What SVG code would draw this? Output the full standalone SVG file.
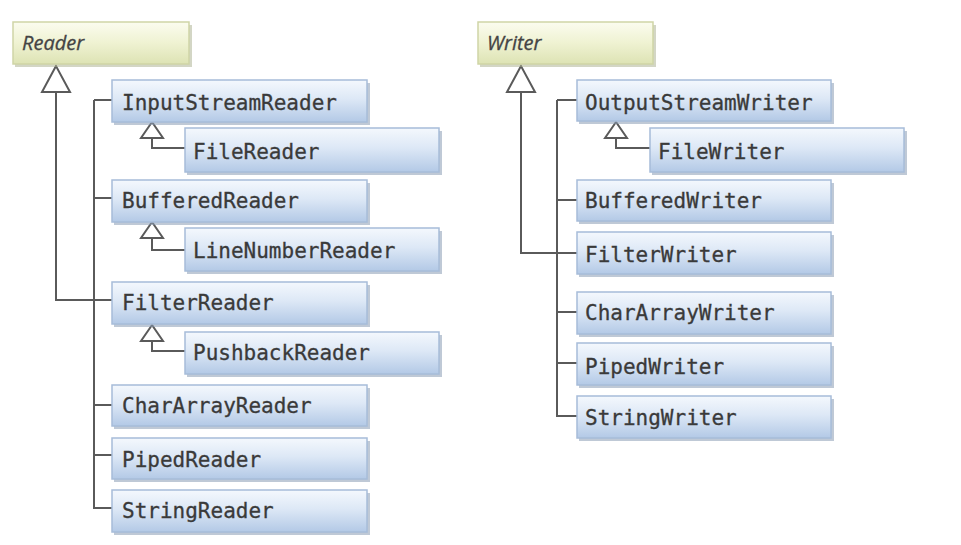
<svg xmlns="http://www.w3.org/2000/svg" width="961" height="545" viewBox="0 0 961 545">
<defs>
<linearGradient id="blue" x1="0" y1="0" x2="0" y2="1">
<stop offset="0" stop-color="#f4f8fd"/>
<stop offset="0.45" stop-color="#dde8f6"/>
<stop offset="1" stop-color="#b3c9e6"/>
</linearGradient>
<linearGradient id="green" x1="0" y1="0" x2="0" y2="1">
<stop offset="0" stop-color="#fbfcef"/>
<stop offset="0.5" stop-color="#eff2d2"/>
<stop offset="1" stop-color="#dde3b4"/>
</linearGradient>
</defs>
<style>
.bg{fill:#ffffff}
.sh{fill:#8a9cb5;opacity:0.55}
.shg{fill:#a8ad8c;opacity:0.5}
.b{fill:url(#blue);stroke:#a7bcd9;stroke-width:1.5}
.g{fill:url(#green);stroke:#cfd5a6;stroke-width:1.5}
.t{font-family:"DejaVu Sans Mono","Liberation Mono",monospace;font-size:21px;fill:#3a3a3a;stroke:#3a3a3a;stroke-width:0.3}
.ti{font-family:"Open Sans","Liberation Sans",sans-serif;font-style:italic;font-size:20px;fill:#444;stroke:#444;stroke-width:0.3}
.ln{fill:none;stroke:#5a5a5a;stroke-width:2}
.tri{fill:#ffffff;stroke:#5a5a5a;stroke-width:2}
</style>
<rect class="bg" x="0" y="0" width="961" height="545"/>

<g id="connectors">
<path class="ln" d="M56,92 V300 H112"/>
<polygon class="tri" points="56,66 42,92 70,92"/>
<path class="ln" d="M94,100 V508 H112 M94,100 H112 M94,198 H112 M94,300 H112 M94,405 H112 M94,455 H112"/>
<path class="ln" d="M152,138 V148 H185"/>
<polygon class="tri" points="152,122 141,138 163,138"/>
<path class="ln" d="M152,238 V250 H185"/>
<polygon class="tri" points="152,222 141,238 163,238"/>
<path class="ln" d="M152,341 V351 H185"/>
<polygon class="tri" points="152,325 141,341 163,341"/>
<path class="ln" d="M521,92 V253 H577"/>
<polygon class="tri" points="521,66 507,92 535,92"/>
<path class="ln" d="M557,100 V416 H577 M557,100 H577 M557,200 H577 M557,312 H577 M557,363 H577"/>
<path class="ln" d="M616,138 V148 H650"/>
<polygon class="tri" points="616,122 605,138 627,138"/>
</g>

<g id="Reader"><rect class="shg" x="15" y="25" width="177" height="42"/><rect class="g" x="13" y="22" width="176" height="42"/><text class="ti" x="22" y="50">Reader</text></g>
<g id="InputStreamReader"><rect class="sh" x="114" y="83" width="256" height="42"/><rect class="b" x="112" y="80" width="255" height="42"/><text class="t" x="122" y="110">InputStreamReader</text></g>
<g id="FileReader"><rect class="sh" x="187" y="131" width="255" height="44"/><rect class="b" x="185" y="128" width="254" height="44"/><text class="t" x="193" y="159">FileReader</text></g>
<g id="BufferedReader"><rect class="sh" x="114" y="183" width="256" height="42"/><rect class="b" x="112" y="180" width="255" height="42"/><text class="t" x="122" y="208">BufferedReader</text></g>
<g id="LineNumberReader"><rect class="sh" x="187" y="231" width="255" height="43"/><rect class="b" x="185" y="228" width="254" height="43"/><text class="t" x="193" y="258">LineNumberReader</text></g>
<g id="FilterReader"><rect class="sh" x="114" y="285" width="256" height="42"/><rect class="b" x="112" y="282" width="255" height="42"/><text class="t" x="122" y="310">FilterReader</text></g>
<g id="PushbackReader"><rect class="sh" x="187" y="335" width="255" height="42"/><rect class="b" x="185" y="332" width="254" height="42"/><text class="t" x="193" y="360">PushbackReader</text></g>
<g id="CharArrayReader"><rect class="sh" x="114" y="388" width="256" height="41"/><rect class="b" x="112" y="385" width="255" height="41"/><text class="t" x="122" y="413">CharArrayReader</text></g>
<g id="PipedReader"><rect class="sh" x="114" y="441" width="256" height="41"/><rect class="b" x="112" y="438" width="255" height="41"/><text class="t" x="122" y="467">PipedReader</text></g>
<g id="StringReader"><rect class="sh" x="114" y="493" width="256" height="42"/><rect class="b" x="112" y="490" width="255" height="42"/><text class="t" x="122" y="518">StringReader</text></g>

<g id="Writer"><rect class="shg" x="480" y="25" width="176" height="42"/><rect class="g" x="478" y="22" width="175" height="42"/><text class="ti" x="487" y="50">Writer</text></g>
<g id="OutputStreamWriter"><rect class="sh" x="579" y="83" width="255" height="41"/><rect class="b" x="577" y="80" width="254" height="41"/><text class="t" x="585" y="110">OutputStreamWriter</text></g>
<g id="FileWriter"><rect class="sh" x="652" y="131" width="255" height="44"/><rect class="b" x="650" y="128" width="254" height="44"/><text class="t" x="658" y="159">FileWriter</text></g>
<g id="BufferedWriter"><rect class="sh" x="579" y="183" width="255" height="41"/><rect class="b" x="577" y="180" width="254" height="41"/><text class="t" x="585" y="208">BufferedWriter</text></g>
<g id="FilterWriter"><rect class="sh" x="579" y="235" width="255" height="42"/><rect class="b" x="577" y="232" width="254" height="42"/><text class="t" x="585" y="262">FilterWriter</text></g>
<g id="CharArrayWriter"><rect class="sh" x="579" y="295" width="255" height="42"/><rect class="b" x="577" y="292" width="254" height="42"/><text class="t" x="585" y="320">CharArrayWriter</text></g>
<g id="PipedWriter"><rect class="sh" x="579" y="346" width="255" height="42"/><rect class="b" x="577" y="343" width="254" height="42"/><text class="t" x="585" y="374">PipedWriter</text></g>
<g id="StringWriter"><rect class="sh" x="579" y="399" width="255" height="42"/><rect class="b" x="577" y="396" width="254" height="42"/><text class="t" x="585" y="425">StringWriter</text></g>
</svg>
